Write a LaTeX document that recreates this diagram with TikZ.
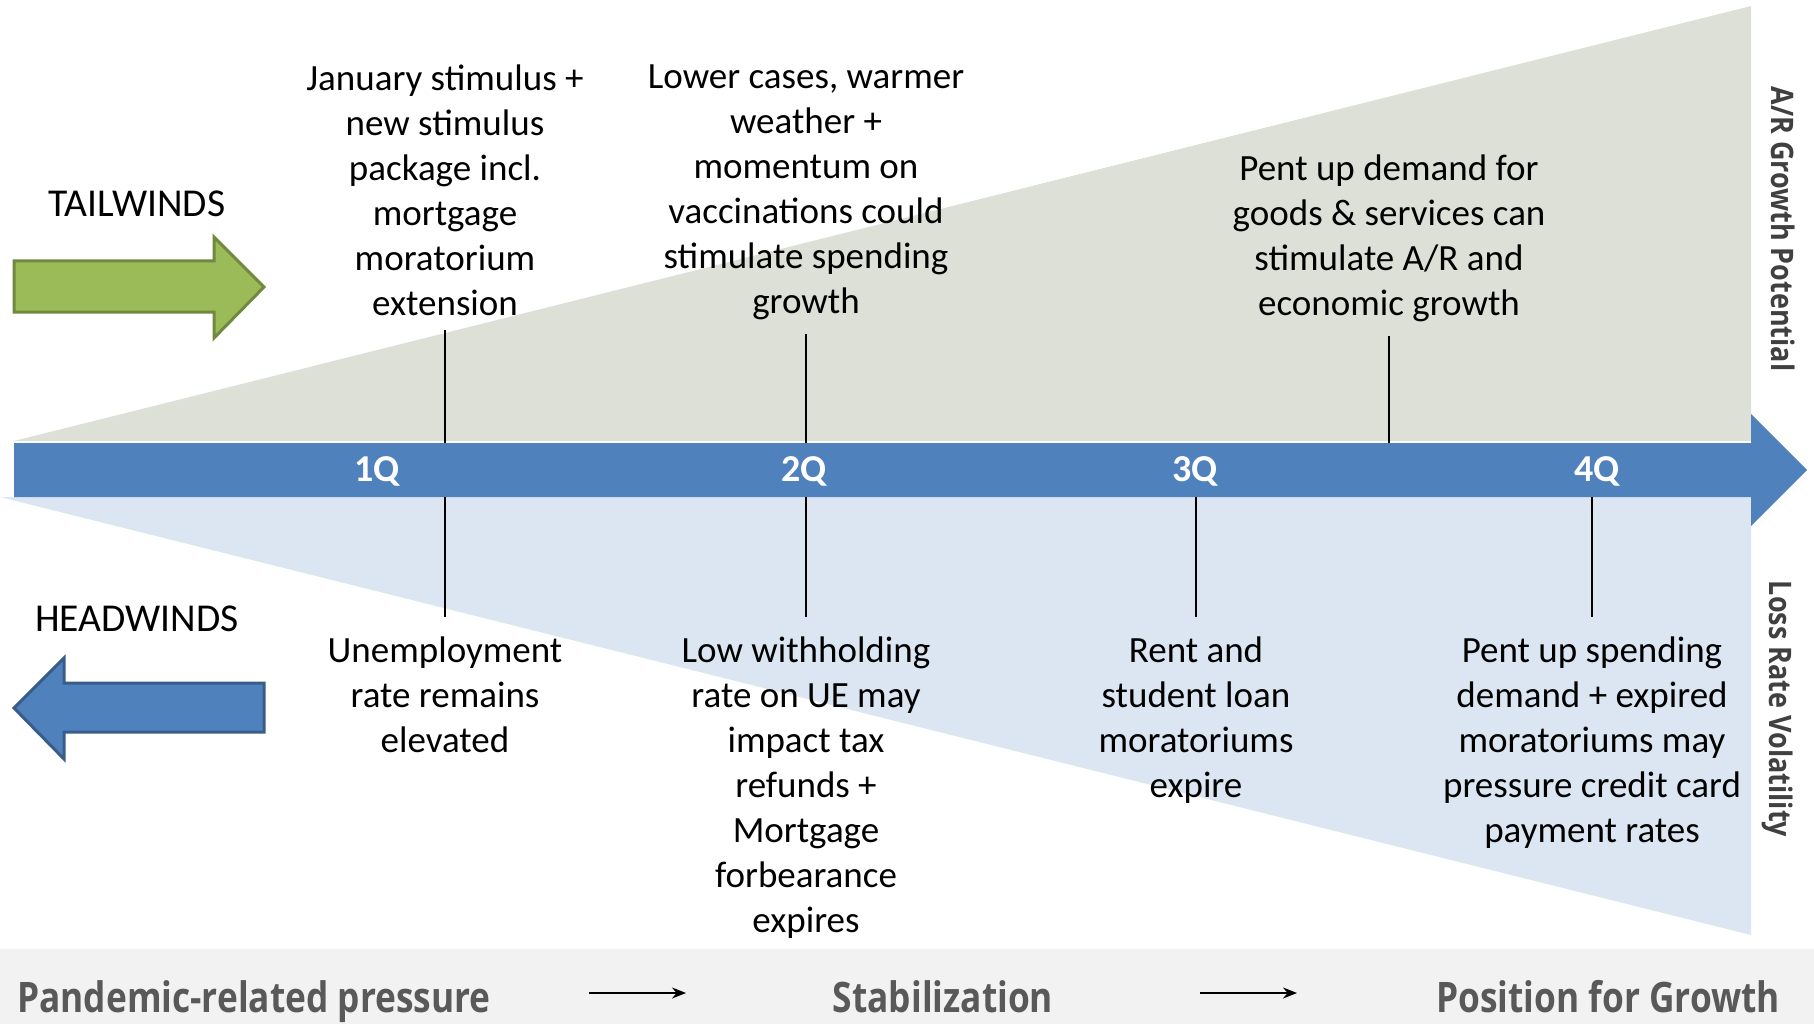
\documentclass[tikz,border=0pt]{standalone}
\usepackage{fontspec}
\setmainfont{Carlito}
\newfontfamily\condfont[FakeStretch=0.84]{Open Sans}
\newfontfamily\sidefont[FakeStretch=0.87]{Open Sans}
\usetikzlibrary{arrows.meta}

\definecolor{upfill}{RGB}{221,224,214}
\definecolor{downfill}{RGB}{220,230,242}
\definecolor{barblue}{RGB}{79,129,189}
\definecolor{windblue}{RGB}{56,93,138}
\definecolor{windgreen}{RGB}{155,187,89}
\definecolor{windline}{RGB}{113,137,63}
\definecolor{bandgray}{RGB}{242,242,242}
\definecolor{phasegray}{RGB}{89,89,89}
\definecolor{sidegray}{RGB}{64,64,64}

\tikzset{
  note/.style={align=center,font=\fontsize{37}{45}\selectfont},
  qlabel/.style={text=white,font=\fontsize{38}{40}\selectfont\bfseries},
  wind/.style={font=\fontsize{39.5}{42}\selectfont},
  phase/.style={text=phasegray,anchor=base,font=\condfont\bfseries\fontsize{42}{44}\selectfont},
  side/.style={text=sidegray,rotate=-90,font=\sidefont\bfseries\fontsize{31}{33}\selectfont},
  tick/.style={black,line width=2pt,shorten <=20pt},
  windarrow/.style={line width=3pt,line join=miter},
}

\begin{document}
\begin{tikzpicture}[x=1pt,y=-1pt,every node/.style={inner sep=0pt}]
  \useasboundingbox (0,0) rectangle (1814,1024);

  % growth and volatility wedges
  \fill[upfill] (14,441) -- (1751,6) -- (1751,441) -- cycle;
  \fill[downfill] (0,497) -- (1751,497) -- (1751,935) -- cycle;

  % timeline arrow
  \fill[barblue] (14,443) -- (1751,443) -- (1751,414) -- (1807,470)
    -- (1751,526) -- (1751,497) -- (14,497) -- cycle;
  \coordinate (bartop) at (0,443);
  \coordinate (barbot) at (0,497);

  \node[qlabel] (q1) at (377,471) {1Q};
  \node[qlabel] (q2) at (804,471) {2Q};
  \node[qlabel] (q3) at (1195,471) {3Q};
  \node[qlabel] (q4) at (1597,471) {4Q};

  % tailwinds
  \node[wind] (tail) at (137,204) {TAILWINDS};
  \draw[windarrow,draw=windline,fill=windgreen] (14,261) -- (214,261) -- (214,237)
    -- (264,287) -- (214,338) -- (214,312) -- (14,312) -- cycle;

  \node[note,anchor=north] (up1) at (445,64.5) {January stimulus +\\new stimulus\\package incl.\\mortgage\\moratorium\\extension};
  \node[note,anchor=north] (up2) at (806,64.5) {Lower cases, warmer\\weather +\\momentum on\\vaccinations could\\stimulate spending\\growth};
  \node[note,anchor=north] (up3) at (1389,155) {Pent up demand for\\goods \& services can\\stimulate A/R and\\economic growth};

  \foreach \n in {up1,up2,up3}
    \draw[tick,shorten <=14pt] (\n.south) -- (\n.south |- bartop);

  % headwinds
  \node[wind] (head) at (137,619) {HEADWINDS};
  \draw[windarrow,draw=windblue,fill=barblue] (264,683) -- (64,683) -- (64,658)
    -- (14,708) -- (64,759) -- (64,732) -- (264,732) -- cycle;

  \node[note,anchor=north] (dn1) at (445,636.5) {Unemployment\\rate remains\\elevated};
  \node[note,anchor=north] (dn2) at (806,636.5) {Low withholding\\rate on UE may\\impact tax\\refunds +\\Mortgage\\forbearance\\expires};
  \node[note,anchor=north] (dn3) at (1196,636.5) {Rent and\\student loan\\moratoriums\\expire};
  \node[note,anchor=north] (dn4) at (1592,636.5) {Pent up spending\\demand + expired\\moratoriums may\\pressure credit card\\payment rates};

  \foreach \n in {dn1,dn2,dn3,dn4}
    \draw[tick] (\n.north) -- (\n.north |- barbot);

  % side captions
  \node[side] (gain) at (1783,229) {A/R Growth Potential};
  \node[side] (loss) at (1778,709) {Loss Rate Volatility};

  % phases along the bottom
  \fill[bandgray] (0,949) rectangle (1814,1024);
  \node[phase] (p1) at (254,1012) {Pandemic-related pressure};
  \node[phase] (p2) at (943,1012) {Stabilization};
  \node[phase] (p3) at (1608,1012) {Position for Growth};
  \coordinate (a1) at (589,993);
  \coordinate (b1) at (686,993);
  \coordinate (a2) at (1200,993);
  \coordinate (b2) at (1297,993);
  \draw[-{Stealth[length=14pt,width=11pt]},line width=2pt] (a1) -- (b1);
  \draw[-{Stealth[length=14pt,width=11pt]},line width=2pt] (a2) -- (b2);
\end{tikzpicture}
\end{document}
